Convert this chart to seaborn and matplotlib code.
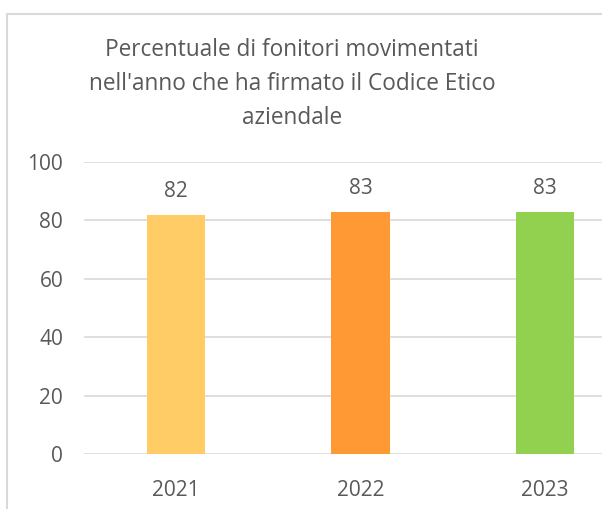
import matplotlib.pyplot as plt
import matplotlib.patches as mpatches
import seaborn as sns
import pandas as pd

years = ['2021', '2022', '2023']
values = [82, 83, 83]
colors = ['#FFCC66', '#FF9933', '#92D050']
title = "Percentuale di fonitori movimentati\nnell'anno che ha firmato il Codice Etico\naziendale"

sns.set_theme(style='white')
plt.rcParams['font.family'] = ['Open Sans', 'DejaVu Sans']
grey = '#595959'

df = pd.DataFrame({'anno': years, 'valore': values})

fig = plt.figure(figsize=(6.02, 5.09), dpi=100)
ax = fig.add_axes([84 / 602, 1 - 454 / 509, (637 - 84) / 602, (454 - 162) / 509])

sns.barplot(data=df, x='anno', y='valore', hue='anno', palette=colors,
            width=0.315, legend=False, saturation=1, linewidth=0, ax=ax)

for c in ax.containers:
    ax.bar_label(c, fmt='%d', padding=9, fontsize=15, color=grey)

ax.set_ylim(0, 100)
ax.set_yticks([0, 20, 40, 60, 80, 100])
ax.set_xlim(-0.5, 2.5)
ax.yaxis.grid(True, color='#D9D9D9', linewidth=1.2)
ax.set_axisbelow(True)
for s in ax.spines.values():
    s.set_visible(False)
ax.set_xlabel('')
ax.set_ylabel('')
ax.tick_params(axis='y', length=0, pad=15, labelsize=15, labelcolor=grey)
ax.tick_params(axis='x', length=0, pad=19, labelsize=15, labelcolor=grey)

fig.text(292 / 602, 1 - 84 / 509, title, ha='center', va='center',
         fontsize=16.3, color=grey, linespacing=1.54)

# chart frame (left and top edges visible)
fig.add_artist(mpatches.Rectangle((7 / 602, -0.1), 1.0, 1.1 - 14 / 509,
                                  transform=fig.transFigure, fill=False,
                                  edgecolor='#D9D9D9', linewidth=1.5))

fig.savefig('out.png', dpi=100)
